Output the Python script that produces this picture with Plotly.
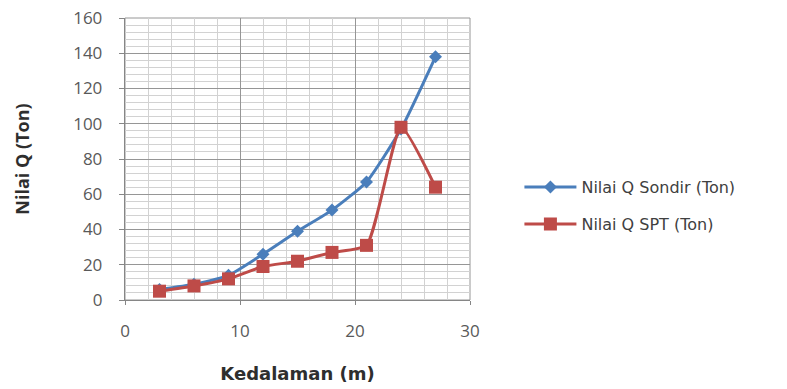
import plotly.graph_objects as go

# Depth (m) and bearing capacity values (Ton)
kedalaman = [3, 6, 9, 12, 15, 18, 21, 24, 27]
q_sondir = [6, 9, 14, 26, 39, 51, 67, 97, 138]
q_spt = [5, 8, 12, 19, 22, 27, 31, 98, 64]

x_ticks = [0, 10, 20, 30]
y_ticks = [0, 20, 40, 60, 80, 100, 120, 140, 160]

BLUE = "#4A7EBB"
RED = "#BE4B48"
FONT = "Open Sans, Liberation Sans, sans-serif"
WIDE = "DejaVu Sans, Verdana, sans-serif"
PAD = "\u00a0\u00a0\u00a0"

fig = go.Figure()
fig.add_trace(go.Scatter(
    x=kedalaman, y=q_sondir, mode="lines+markers",
    name="Nilai Q Sondir (Ton)", legend="legend",
    line=dict(color=BLUE, width=3, shape="spline", smoothing=0.5),
    marker=dict(symbol="diamond", size=10, color=BLUE),
))
fig.add_trace(go.Scatter(
    x=kedalaman, y=q_spt, mode="lines+markers",
    name="Nilai Q SPT (Ton)", legend="legend2",
    line=dict(color=RED, width=3, shape="spline", smoothing=0.5),
    marker=dict(symbol="square", size=13, color=RED),
))

grid_major = "#969696"
grid_minor = "#d2d2d2"
legend_font = dict(family=WIDE, size=16, color="#404040")

fig.update_layout(
    width=787, height=389,
    margin=dict(l=125, r=317, t=18, b=89, autoexpand=False),
    paper_bgcolor="white", plot_bgcolor="white",
    font=dict(family=FONT, color="#595959"),
    showlegend=True,
    legend=dict(
        xref="container", yref="container", x=0.66, y=1 - 170 / 389,
        xanchor="left", yanchor="top", itemwidth=52,
        font=legend_font, bgcolor="rgba(0,0,0,0)",
    ),
    legend2=dict(
        xref="container", yref="container", x=0.66, y=1 - 207 / 389,
        xanchor="left", yanchor="top", itemwidth=52,
        font=legend_font, bgcolor="rgba(0,0,0,0)",
    ),
    xaxis=dict(
        range=[0, 30], tickvals=x_ticks, ticktext=[str(v) for v in x_ticks],
        automargin=False,
        showgrid=True, gridcolor=grid_major, gridwidth=1,
        minor=dict(dtick=2, showgrid=True, gridcolor=grid_minor, gridwidth=1),
        showline=True, linecolor="#868686", linewidth=1,
        ticks="outside", ticklen=4, tickcolor="#868686",
        ticklabelstandoff=12,
        tickfont=dict(size=17, color="#595959"),
        zeroline=False,
        title=dict(text="<b>Kedalaman (m)</b>", font=dict(family=WIDE, size=18, color="#2e2e2e"),
                   standoff=25),
    ),
    yaxis=dict(
        range=[0, 160], tickvals=y_ticks, ticktext=[str(v) + PAD for v in y_ticks],
        automargin=False,
        showgrid=True, gridcolor=grid_major, gridwidth=1,
        minor=dict(dtick=4, showgrid=True, gridcolor=grid_minor, gridwidth=1),
        showline=True, linecolor="#868686", linewidth=1,
        ticks="outside", ticklen=5, tickcolor="#868686",
        tickfont=dict(size=17, color="#595959"),
        zeroline=False,
        title=dict(text="<b>Nilai Q (Ton)</b>", font=dict(size=18, color="#2e2e2e"),
                   standoff=38),
    ),
)

# Right-hand and top edges of the plot area
fig.add_shape(type="rect", xref="paper", yref="paper", x0=0, y0=0, x1=1, y1=1,
              line=dict(color=grid_major, width=1), layer="below")

fig.write_html("out.html")
